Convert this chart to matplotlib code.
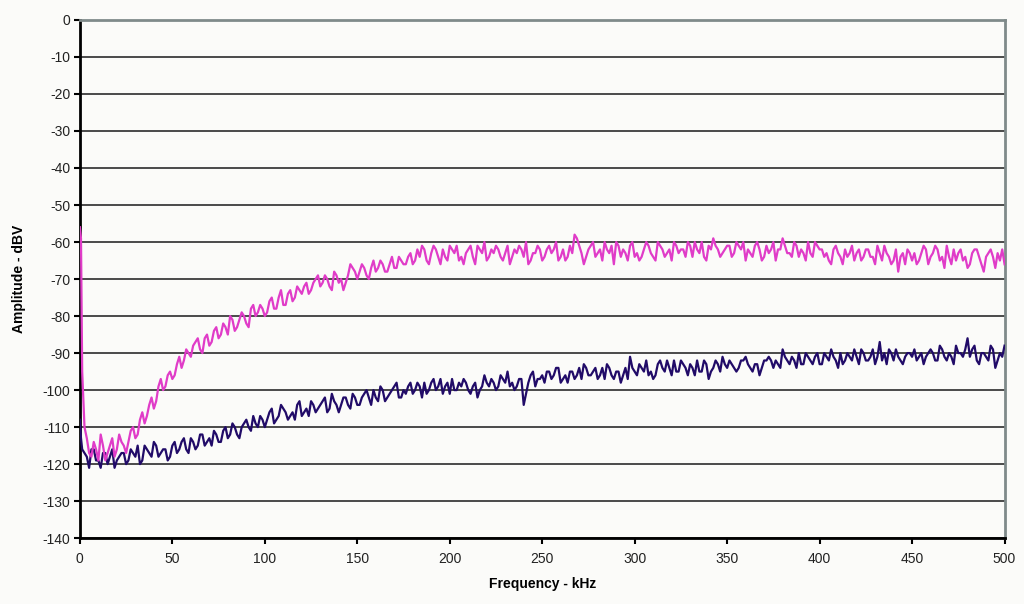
import numpy as np
import matplotlib
matplotlib.use("Agg")
import matplotlib.pyplot as plt

plt.rcParams['font.family'] = ['Liberation Sans', 'DejaVu Sans']
plt.rcParams['axes.unicode_minus'] = False

# frequency grid (kHz): two points at the very start, then readings every
# 2.5 kHz ("main") plus the readings half way between them ("mid")
freq_head = [0.0, 0.6]
freq_main = np.arange(2.5, 500.01, 2.5)
freq_mid = freq_main - 1.25

pink_head = [-56, -59]
navy_head = [-108, -113]

# magenta trace (dBV) at freq_main
pink_main = [
    -110, -117, -114, -119, -115, -117, -113, -116, -114, -117,
    -111, -113, -108, -109, -104, -105, -99, -100, -96, -97,
    -93, -94, -89, -91, -87, -89, -86, -88, -84, -86,
    -82, -85, -81, -83, -79, -82, -78, -80, -77, -80,
    -76, -78, -75, -77, -74, -76, -72, -74, -71, -73,
    -70, -72, -69, -72, -68, -71, -73, -69, -67, -70,
    -66, -69, -67, -68, -65, -68, -66, -67, -64, -66,
    -64, -66, -62, -61, -65, -63, -62, -66, -64, -61,
    -63, -65, -66, -62, -64, -61, -63, -65, -62, -61,
    -64, -63, -66, -62, -61, -64, -66, -63, -61, -65,
    -62, -63, -60, -64, -65, -61, -58, -61, -66, -62,
    -60, -63, -65, -62, -61, -60, -64, -63, -61, -64,
    -65, -62, -61, -64, -60, -62, -63, -65, -61, -62,
    -64, -61, -60, -63, -64, -61, -59, -62, -63, -61,
    -64, -60, -62, -65, -63, -61, -62, -64, -63, -60,
    -62, -59, -63, -64, -61, -62, -65, -63, -60, -62,
    -64, -65, -62, -63, -66, -64, -61, -63, -65, -62,
    -64, -66, -63, -61, -64, -65, -68, -63, -62, -65,
    -66, -63, -62, -64, -61, -65, -67, -64, -62, -63,
    -65, -67, -63, -62, -66, -64, -62, -67, -65, -66,
]

# magenta trace (dBV) at freq_mid
pink_mid = [
    -95, -113, -118, -116, -112, -119, -115, -118, -112, -115,
    -114, -110, -112, -106, -107, -102, -103, -97, -99, -95,
    -96, -91, -92, -90, -88, -86, -90, -85, -87, -83,
    -85, -83, -80, -84, -81, -80, -83, -77, -79, -78,
    -79, -75, -78, -73, -77, -73, -75, -73, -72, -74,
    -71, -69, -71, -70, -73, -69, -70, -71, -66, -68,
    -68, -67, -70, -65, -67, -66, -68, -64, -67, -65,
    -66, -63, -65, -64, -62, -66, -61, -64, -62, -65,
    -62, -61, -64, -63, -61, -66, -62, -60, -64, -63,
    -62, -65, -61, -64, -63, -62, -60, -65, -63, -62,
    -64, -61, -62, -65, -62, -64, -63, -59, -63, -64,
    -61, -64, -62, -60, -63, -66, -61, -62, -65, -60,
    -63, -64, -60, -63, -65, -61, -64, -62, -60, -63,
    -62, -60, -64, -62, -60, -65, -62, -61, -64, -62,
    -61, -63, -61, -60, -62, -64, -60, -65, -61, -62,
    -65, -62, -61, -63, -60, -64, -63, -60, -64, -61,
    -62, -63, -66, -61, -64, -62, -63, -65, -62, -64,
    -62, -64, -61, -65, -63, -66, -62, -64, -66, -63,
    -63, -65, -61, -66, -63, -62, -64, -61, -66, -65,
    -62, -64, -66, -62, -64, -68, -63, -64, -63, -62,
]

# dark blue trace (dBV) at freq_main
navy_main = [
    -117, -121, -116, -119, -117, -120, -116, -119, -117, -120,
    -116, -118, -120, -115, -117, -114, -118, -116, -119, -115,
    -117, -114, -116, -113, -116, -112, -115, -113, -111, -114,
    -111, -113, -109, -112, -110, -108, -111, -109, -107, -110,
    -106, -109, -107, -105, -108, -106, -104, -107, -105, -103,
    -106, -104, -102, -105, -103, -106, -102, -104, -101, -104,
    -102, -100, -104, -102, -99, -103, -101, -99, -102, -100,
    -99, -101, -98, -102, -101, -98, -100, -97, -99, -101,
    -100, -98, -97, -100, -99, -102, -99, -98, -97, -100,
    -96, -98, -99, -100, -97, -104, -98, -95, -97, -96,
    -95, -97, -94, -98, -96, -95, -97, -94, -93, -96,
    -95, -97, -94, -93, -96, -95, -98, -94, -91, -95,
    -93, -95, -96, -97, -93, -94, -92, -96, -95, -92,
    -94, -93, -96, -95, -92, -97, -94, -93, -91, -94,
    -93, -95, -92, -91, -94, -93, -96, -92, -91, -94,
    -93, -89, -92, -91, -94, -93, -90, -92, -91, -93,
    -90, -92, -91, -94, -93, -90, -92, -91, -89, -92,
    -91, -93, -87, -90, -89, -92, -91, -93, -90, -91,
    -92, -90, -91, -89, -92, -88, -91, -90, -93, -90,
    -91, -86, -89, -92, -90, -91, -88, -94, -90, -88,
]

# dark blue trace (dBV) at freq_mid
navy_mid = [
    -116, -118, -116, -119, -121, -117, -118, -121, -118, -117,
    -119, -117, -115, -119, -116, -118, -115, -117, -116, -118,
    -114, -116, -113, -117, -114, -115, -112, -114, -115, -112,
    -114, -110, -112, -110, -113, -109, -110, -107, -110, -108,
    -108, -105, -108, -104, -106, -107, -108, -103, -106, -107,
    -104, -105, -103, -106, -101, -104, -104, -102, -105, -102,
    -104, -101, -102, -100, -103, -100, -102, -100, -98, -102,
    -101, -98, -100, -99, -98, -100, -97, -99, -101, -98,
    -97, -100, -99, -98, -101, -98, -100, -96, -99, -98,
    -99, -97, -95, -98, -99, -97, -101, -96, -99, -97,
    -98, -95, -96, -94, -97, -98, -95, -96, -97, -94,
    -96, -94, -96, -97, -94, -97, -95, -96, -97, -94,
    -96, -94, -92, -95, -96, -92, -95, -94, -92, -95,
    -93, -96, -94, -92, -95, -93, -95, -92, -95, -93,
    -92, -94, -94, -92, -93, -95, -93, -94, -92, -92,
    -92, -94, -91, -93, -92, -90, -93, -91, -93, -90,
    -93, -91, -89, -92, -90, -92, -91, -89, -93, -90,
    -92, -89, -91, -92, -93, -90, -89, -92, -91, -90,
    -89, -91, -93, -90, -90, -92, -89, -92, -91, -88,
    -90, -89, -91, -88, -93, -90, -92, -89, -92, -91,
]


def merge(head, mid, main):
    # put the mid readings between the main ones, in frequency order
    body = np.column_stack([mid, main]).ravel()
    return np.concatenate([head, body])


freq_khz = merge(freq_head, freq_mid, freq_main)
pink_dbv = merge(pink_head, pink_mid, pink_main)
navy_dbv = merge(navy_head, navy_mid, navy_main)

bg = '#fbfbf9'
fig = plt.figure(figsize=(10.24, 6.04), dpi=100, facecolor=bg)
ax = fig.add_axes([0.078, 0.109, 0.903, 0.858], facecolor=bg)

ax.plot(freq_khz, navy_dbv, color='#210b68', lw=1.6, zorder=3)
ax.plot(freq_khz, pink_dbv, color='#e03cc8', lw=1.6, zorder=4)

ax.set_xlim(0, 500)
ax.set_ylim(-140, 0)
ax.set_xticks(np.arange(0, 501, 50))
ax.set_yticks(np.arange(-140, 1, 10))
ax.yaxis.grid(True, color='#1a1a1a', lw=1.1)
ax.set_axisbelow(True)

for side in ['left', 'bottom']:
    ax.spines[side].set_color('black')
    ax.spines[side].set_linewidth(2)
for side in ['top', 'right']:
    ax.spines[side].set_color('#7f8a8a')
    ax.spines[side].set_linewidth(2)

ax.tick_params(axis='both', direction='out', length=4, width=1.5,
               labelsize=10, colors='black', labelcolor='#222222')
ax.tick_params(axis='y', pad=3)
ax.tick_params(axis='x', pad=6)

ax.set_xlabel('Frequency - kHz', fontsize=10, fontweight='bold', labelpad=8)
ax.set_ylabel('Amplitude - dBV', fontsize=10, fontweight='bold', labelpad=12)

fig.savefig('out.png', dpi=100, facecolor=bg)
